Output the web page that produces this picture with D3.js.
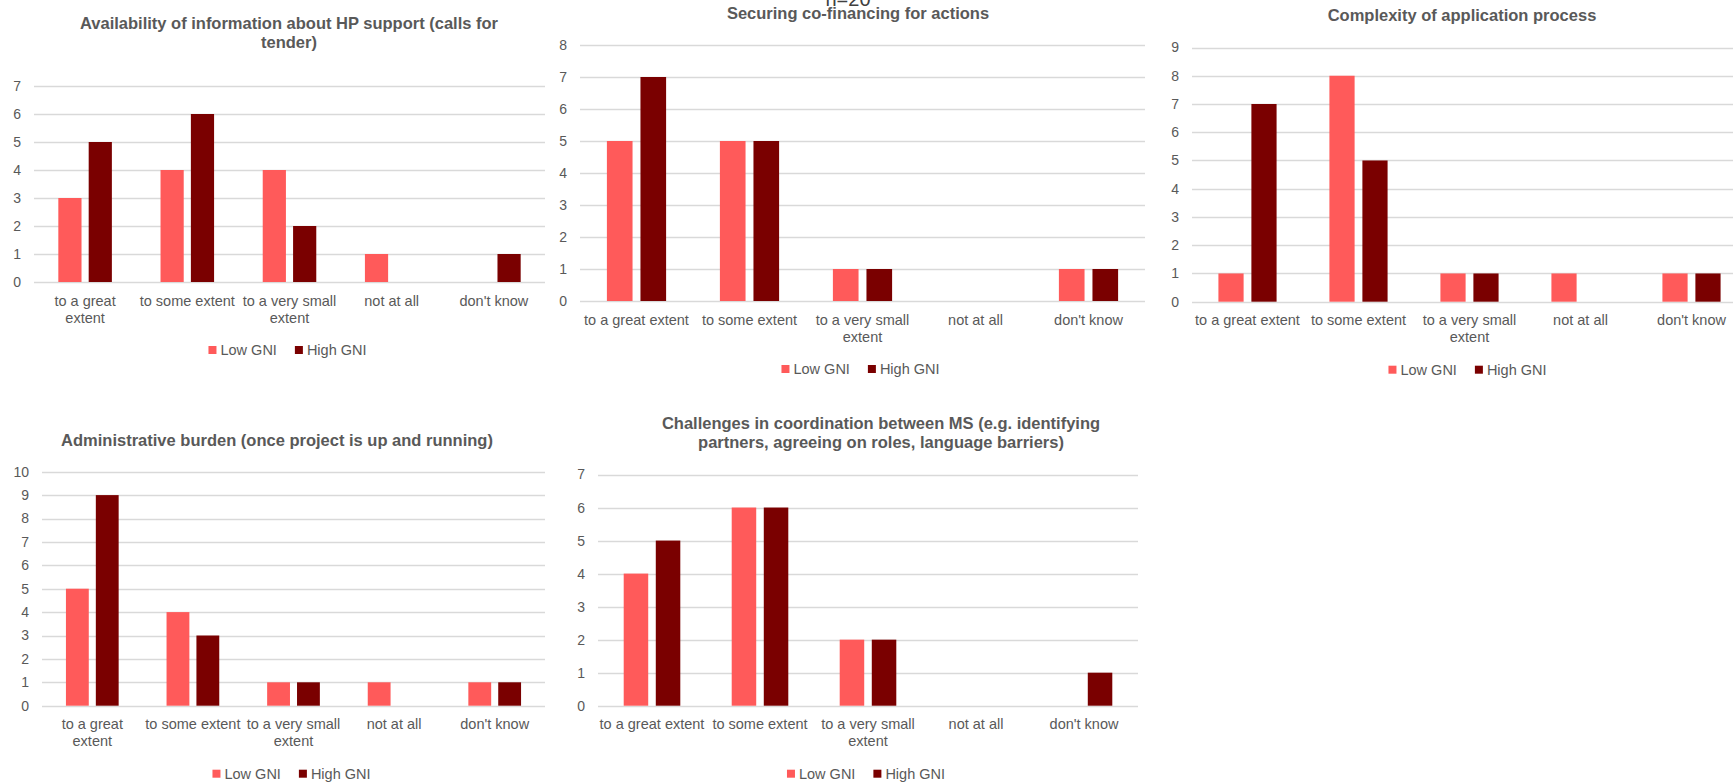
<!DOCTYPE html>
<html>
<head>
<meta charset="utf-8">
<script src="https://cdn.jsdelivr.net/npm/d3@7"></script>
<style>
  html, body { margin: 0; padding: 0; background: #ffffff; overflow: hidden; }
  svg { display: block; font-family: "Liberation Sans", Arial, sans-serif; }
</style>
</head>
<body>
<svg id="chart" width="1733" height="784"></svg>
<script>
// Survey answers by respondent group
const categories = ["to a great extent", "to some extent", "to a very small extent", "not at all", "don't know"];
const seriesNames = ["Low GNI", "High GNI"];

const availabilityLow  = [3, 4, 4, 1, 0];
const availabilityHigh = [5, 6, 2, 0, 1];
const cofinancingLow   = [5, 5, 1, 0, 1];
const cofinancingHigh  = [7, 5, 1, 0, 1];
const complexityLow    = [1, 8, 1, 1, 1];
const complexityHigh   = [7, 5, 1, 0, 1];
const burdenLow        = [5, 4, 1, 1, 1];
const burdenHigh       = [9, 3, 1, 0, 1];
const coordinationLow  = [4, 6, 2, 0, 0];
const coordinationHigh = [5, 6, 2, 0, 1];

const yMaxima = [7, 8, 9, 10, 7];

const titleLines = [
  ["Availability of information about HP support (calls for", "tender)"],
  ["Securing co-financing for actions"],
  ["Complexity of application process"],
  ["Administrative burden (once project is up and running)"],
  ["Challenges in coordination between MS (e.g. identifying", "partners, agreeing on roles, language barriers)"]
];

const sampleNote = "n=20";

// Panel geometry
const panels = [
  { left: 34,   right: 545,  top: 86,    bottom: 282,   titleX: 289,  titleY: 23,  wrap: 100 },
  { left: 580,  right: 1145, top: 45,    bottom: 301,   titleX: 858,  titleY: 13,  wrap: 112 },
  { left: 1192, right: 1747, top: 47.5,  bottom: 301.7, titleX: 1462, titleY: 15,  wrap: 112 },
  { left: 42,   right: 545,  top: 471.7, bottom: 705.7, titleX: 277,  titleY: 439.5, wrap: 100 },
  { left: 598,  right: 1138, top: 474.5, bottom: 705.7, titleX: 881,  titleY: 422.5, wrap: 112 }
];

const seriesData = [
  [availabilityLow, availabilityHigh],
  [cofinancingLow, cofinancingHigh],
  [complexityLow, complexityHigh],
  [burdenLow, burdenHigh],
  [coordinationLow, coordinationHigh]
];

const colors = ["#ff5a5a", "#7a0000"];
const textColor = "#595959";
const gridColor = "#d9d9d9";

const svg = d3.select("#chart");

// measuring helper for wrapping category labels
const measurer = svg.append("text")
  .attr("font-size", 14.5)
  .attr("visibility", "hidden");
function textWidth(s) {
  measurer.text(s);
  return measurer.node().getComputedTextLength();
}
function wrapWords(label, maxW) {
  const words = label.split(" ");
  const lines = [];
  let cur = "";
  words.forEach(w => {
    const test = cur ? cur + " " + w : w;
    if (cur && textWidth(test) > maxW) {
      lines.push(cur);
      cur = w;
    } else {
      cur = test;
    }
  });
  if (cur) lines.push(cur);
  return lines;
}

panels.forEach((p, i) => {
  const g = svg.append("g");
  const values = seriesData[i];

  const x = d3.scaleBand()
    .domain(categories)
    .range([p.left, p.right])
    .paddingInner(0)
    .paddingOuter(0);
  const W = x.bandwidth();

  const xs = d3.scaleBand()
    .domain(seriesNames)
    .range([W * 0.238, W * 0.762])
    .paddingInner(0.236)
    .paddingOuter(0);

  const y = d3.scaleLinear()
    .domain([0, yMaxima[i]])
    .range([p.bottom, p.top]);

  // gridlines
  const ticks = d3.range(0, yMaxima[i] + 1);
  g.append("g")
    .selectAll("line")
    .data(ticks)
    .join("line")
    .attr("x1", p.left)
    .attr("x2", p.right)
    .attr("y1", d => Math.round(y(d)) + 0.5)
    .attr("y2", d => Math.round(y(d)) + 0.5)
    .attr("stroke", gridColor)
    .attr("stroke-width", 1.3);

  // y axis labels
  const yAxis = d3.axisLeft(y)
    .tickValues(ticks)
    .tickFormat(d3.format("d"))
    .tickSize(0)
    .tickPadding(13);
  const ya = g.append("g")
    .attr("transform", `translate(${p.left},0)`)
    .call(yAxis);
  ya.select(".domain").remove();
  ya.selectAll("text")
    .attr("fill", textColor)
    .attr("font-size", 14)
    .attr("font-family", "\"Liberation Sans\", Arial, sans-serif");

  // bars
  seriesNames.forEach((s, si) => {
    g.append("g")
      .selectAll("rect")
      .data(categories.map((c, ci) => ({ c, v: values[si][ci] })))
      .join("rect")
      .attr("x", d => x(d.c) + xs(s))
      .attr("width", xs.bandwidth())
      .attr("y", d => y(d.v))
      .attr("height", d => y(0) - y(d.v))
      .attr("fill", colors[si]);
  });

  // category labels
  const cl = g.append("g");
  categories.forEach(c => {
    const lines = wrapWords(c, p.wrap);
    const t = cl.append("text")
      .attr("text-anchor", "middle")
      .attr("fill", textColor)
      .attr("font-size", 14.5);
    lines.forEach((ln, li) => {
      t.append("tspan")
        .attr("x", x(c) + W / 2)
        .attr("y", p.bottom + 23.5 + li * 17)
        .text(ln);
    });
  });

  // title
  const tt = g.append("text")
    .attr("text-anchor", "middle")
    .attr("fill", textColor)
    .attr("font-size", 16.5)
    .attr("font-weight", "bold");
  titleLines[i].forEach((ln, li) => {
    tt.append("tspan")
      .attr("x", p.titleX)
      .attr("y", p.titleY + 6 + li * 19.3)
      .text(ln);
  });

  // legend
  const lg = g.append("g");
  const ly = p.bottom + 68;
  const items = [];
  let cursor = 0;
  seriesNames.forEach((s, si) => {
    const w = textWidth(s);
    items.push({ s, si, x: cursor, w });
    cursor += 8 + 4 + w + 18;
  });
  const total = cursor - 18;
  const start = (p.left + p.right) / 2 - total / 2 - 2;
  items.forEach(it => {
    lg.append("rect")
      .attr("x", start + it.x)
      .attr("y", ly - 4)
      .attr("width", 8)
      .attr("height", 8)
      .attr("fill", colors[it.si]);
    lg.append("text")
      .attr("x", start + it.x + 12)
      .attr("y", ly + 5)
      .attr("fill", textColor)
      .attr("font-size", 14.5)
      .text(it.s);
  });
});

measurer.remove();

// sample size note above the second panel
svg.append("text")
  .attr("x", 848)
  .attr("y", 6)
  .attr("text-anchor", "middle")
  .attr("fill", "#404040")
  .attr("font-size", 20)
  .text(sampleNote);
</script>
</body>
</html>
